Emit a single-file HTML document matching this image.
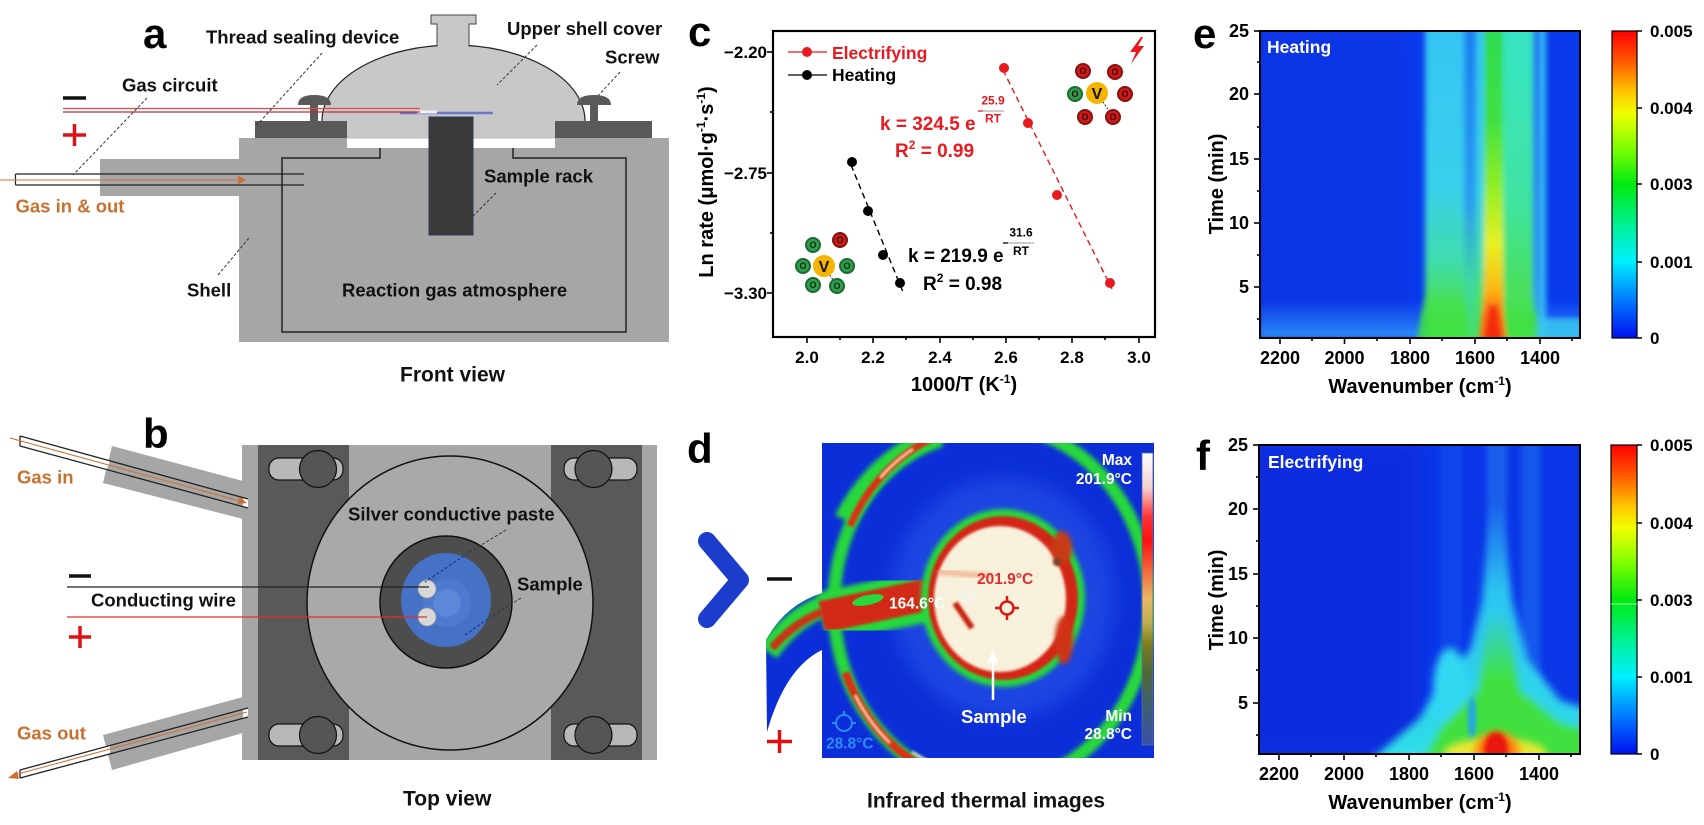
<!DOCTYPE html>
<html><head><meta charset="utf-8">
<style>
html,body{margin:0;padding:0;background:#fff;}
svg{display:block;font-family:"Liberation Sans",Arial,sans-serif;font-weight:bold;}
</style></head>
<body>
<svg width="1704" height="825" viewBox="0 0 1704 825" xmlns="http://www.w3.org/2000/svg">
<defs>
  <filter id="b1" x="-50%" y="-50%" width="200%" height="200%"><feGaussianBlur stdDeviation="1.2"/></filter>
  <filter id="b2" x="-50%" y="-50%" width="200%" height="200%"><feGaussianBlur stdDeviation="2.5"/></filter>
  <filter id="b4" x="-50%" y="-50%" width="200%" height="200%"><feGaussianBlur stdDeviation="4"/></filter>
  <filter id="b8" x="-50%" y="-50%" width="200%" height="200%"><feGaussianBlur stdDeviation="9"/></filter>
  <filter id="bh" x="-100%" y="-20%" width="300%" height="140%"><feGaussianBlur stdDeviation="3 0.5"/></filter>
  <linearGradient id="jet" x1="0" y1="0" x2="0" y2="1">
    <stop offset="0" stop-color="#ff0000"/><stop offset="0.1" stop-color="#ff5a00"/>
    <stop offset="0.2" stop-color="#ffc800"/><stop offset="0.27" stop-color="#f0ff00"/>
    <stop offset="0.38" stop-color="#80ff00"/><stop offset="0.5" stop-color="#00ea10"/>
    <stop offset="0.62" stop-color="#00f08a"/><stop offset="0.75" stop-color="#00f0ff"/>
    <stop offset="0.87" stop-color="#0080ff"/><stop offset="1" stop-color="#0010f0"/>
  </linearGradient>
  <linearGradient id="irb" x1="0" y1="0" x2="0" y2="1">
    <stop offset="0" stop-color="#ffffff"/><stop offset="0.12" stop-color="#f4d0d0"/>
    <stop offset="0.22" stop-color="#ff3030"/><stop offset="0.3" stop-color="#ff1010"/>
    <stop offset="0.42" stop-color="#f07840"/><stop offset="0.5" stop-color="#e8b868"/>
    <stop offset="0.58" stop-color="#c0b050"/><stop offset="0.65" stop-color="#808020"/>
    <stop offset="0.75" stop-color="#506838"/><stop offset="0.87" stop-color="#3c6070"/>
    <stop offset="1" stop-color="#3850a8"/>
  </linearGradient>
  <linearGradient id="gA" x1="0" y1="0" x2="0" y2="1">
    <stop offset="0" stop-color="#36c4f4"/><stop offset="0.5" stop-color="#38d0ec"/>
    <stop offset="0.72" stop-color="#40dcb0"/><stop offset="0.85" stop-color="#48e060"/><stop offset="1" stop-color="#48e050"/>
  </linearGradient>
  <linearGradient id="gG1" x1="0" y1="0" x2="0" y2="1">
    <stop offset="0" stop-color="#1a7cf2"/><stop offset="0.55" stop-color="#2a9cf0"/>
    <stop offset="0.8" stop-color="#40d8a0"/><stop offset="1" stop-color="#48e060"/>
  </linearGradient>
  <linearGradient id="gC" x1="0" y1="0" x2="0" y2="1">
    <stop offset="0" stop-color="#2cdc50"/><stop offset="0.3" stop-color="#40e040"/>
    <stop offset="0.5" stop-color="#90ee20"/><stop offset="0.68" stop-color="#e8f020"/>
    <stop offset="0.84" stop-color="#ffb010"/><stop offset="0.93" stop-color="#ff7010"/><stop offset="1" stop-color="#ff5010"/>
  </linearGradient>
  <linearGradient id="gD" x1="0" y1="0" x2="0" y2="1">
    <stop offset="0" stop-color="#36e4c6"/><stop offset="0.55" stop-color="#40e4a0"/>
    <stop offset="0.8" stop-color="#48e060"/><stop offset="1" stop-color="#48e050"/>
  </linearGradient>
  <linearGradient id="gG2" x1="0" y1="0" x2="0" y2="1">
    <stop offset="0" stop-color="#1b66f2"/><stop offset="0.8" stop-color="#2a90f0"/><stop offset="1" stop-color="#40c0e0"/>
  </linearGradient>
  <linearGradient id="fG" x1="0" y1="0" x2="0" y2="1"><stop offset="0" stop-color="#40e040" stop-opacity="0"/><stop offset="0.45" stop-color="#40e040" stop-opacity="1"/></linearGradient>
  <linearGradient id="fY" x1="0" y1="0" x2="0" y2="1"><stop offset="0" stop-color="#e8f020" stop-opacity="0"/><stop offset="0.4" stop-color="#e8f020" stop-opacity="1"/></linearGradient>
  <linearGradient id="fO" x1="0" y1="0" x2="0" y2="1"><stop offset="0" stop-color="#ff8a10" stop-opacity="0"/><stop offset="0.5" stop-color="#ff6a10" stop-opacity="1"/></linearGradient>
  <linearGradient id="fC" x1="0" y1="0" x2="0" y2="1"><stop offset="0" stop-color="#30d8f2" stop-opacity="0"/><stop offset="0.35" stop-color="#30d8f2" stop-opacity="0.85"/><stop offset="1" stop-color="#30e0e8" stop-opacity="1"/></linearGradient>
  <linearGradient id="fB" x1="0" y1="0" x2="0" y2="1"><stop offset="0" stop-color="#2a88f8" stop-opacity="0"/><stop offset="1" stop-color="#2a90f8" stop-opacity="1"/></linearGradient>
  <clipPath id="ce"><rect x="1260" y="31" width="320" height="307"/></clipPath>
  <clipPath id="cf"><rect x="1259" y="445" width="321" height="309"/></clipPath>
  <clipPath id="cd"><path d="M822,443 H1154 V758 H822 V650 Q785,668 767,732 L766,640 Q785,605 822,593 Z"/></clipPath>
</defs>

<rect x="0" y="0" width="1704" height="825" fill="#fff"/>

<!-- ================= PANEL A ================= -->
<rect x="100" y="159" width="141" height="37" fill="#a6a6a6"/>
<rect x="239" y="138" width="430" height="204" fill="#a6a6a6"/>
<path d="M437,47 V24 H431 V15 H476 V24 H469 V47 Z" fill="#c8c8c8" stroke="#444" stroke-width="1"/>
<path d="M322,121 A131.5,76 0 0 1 585,121 Z" fill="#c8c8c8"/>
<path d="M322,121 A131.5,76 0 0 1 585,121" fill="none" stroke="#222" stroke-width="1.2"/>
<rect x="437.5" y="30" width="31" height="18" fill="#c8c8c8"/>
<rect x="347" y="120" width="208" height="18" fill="#c8c8c8"/>
<rect x="347" y="138" width="208" height="10" fill="#fff"/>
<line x1="347" y1="138" x2="555" y2="138" stroke="#bbb" stroke-width="1"/>
<rect x="255" y="121" width="92" height="17" fill="#595959"/>
<rect x="555" y="121" width="97" height="17" fill="#595959"/>
<path d="M298,105 Q298,95 314,95 Q331,95 331,105 Z" fill="#595959"/>
<rect x="310" y="104" width="8" height="17" fill="#595959"/>
<path d="M577,105 Q577,95 594,95 Q611,95 611,105 Z" fill="#595959"/>
<rect x="590" y="104" width="8" height="17" fill="#595959"/>
<path d="M380,148 V158 H282 V332 H626 V158 H513 V148" fill="none" stroke="#222" stroke-width="1.5"/>
<rect x="429" y="117" width="44" height="118" fill="#3a3a3a" stroke="#2c3a66" stroke-width="1"/>
<line x1="400" y1="113" x2="493" y2="113" stroke="#6a78c8" stroke-width="2.5"/>
<rect x="417" y="110.5" width="20" height="3" fill="#f0f0f0"/>
<line x1="63" y1="108.5" x2="420" y2="108.5" stroke="#e24848" stroke-width="1.2"/>
<line x1="63" y1="112" x2="420" y2="112" stroke="#b83040" stroke-width="1.2"/>
<line x1="63" y1="98" x2="86" y2="98" stroke="#111" stroke-width="3.5"/>
<line x1="63" y1="135" x2="86" y2="135" stroke="#e01010" stroke-width="3.5"/>
<line x1="74.5" y1="124" x2="74.5" y2="146" stroke="#e01010" stroke-width="3.5"/>
<rect x="15.5" y="174" width="84.5" height="11" fill="#fff"/>
<path d="M15.5,174 H304 M15.5,185 H304 M15.5,174 V185" fill="none" stroke="#222" stroke-width="1.2"/>
<line x1="0" y1="180" x2="238" y2="180" stroke="#d07030" stroke-width="1"/>
<polygon points="238,175.5 246,180 238,184.5" fill="#d07030"/>
<g stroke="#333" stroke-width="1" stroke-dasharray="3,2" fill="none">
  <line x1="322" y1="53" x2="257" y2="125"/>
  <line x1="147" y1="98" x2="73" y2="175"/>
  <line x1="537" y1="45" x2="497" y2="85"/>
  <line x1="620" y1="72" x2="597" y2="97"/>
  <line x1="496" y1="193" x2="471" y2="218"/>
  <line x1="218" y1="275" x2="249" y2="238"/>
</g>
<g font-size="18.5" fill="#111">
  <text x="206" y="43.5">Thread sealing device</text>
  <text x="507" y="35">Upper shell cover</text>
  <text x="605" y="63.5">Screw</text>
  <text x="122" y="91.5">Gas circuit</text>
  <text x="15.5" y="212.5" fill="#c8702e">Gas in &amp; out</text>
  <text x="484" y="182.5">Sample rack</text>
  <text x="187" y="296.5">Shell</text>
  <text x="342" y="296.5">Reaction gas atmosphere</text>
</g>
<text x="400" y="381.5" font-size="21" fill="#111">Front view</text>
<text x="143" y="48" font-size="42" fill="#000">a</text>

<!-- ================= PANEL B ================= -->
<polygon points="112,446 243,481 243,519 103,483" fill="#a6a6a6"/>
<polygon points="103,735 243,697 243,733 112,770" fill="#a6a6a6"/>
<rect x="242" y="445" width="415" height="315" fill="#a6a6a6"/>
<rect x="258" y="445" width="91" height="315" fill="#595959"/>
<rect x="551" y="445" width="91" height="315" fill="#595959"/>
<ellipse cx="450" cy="603" rx="143" ry="147" fill="#a9a9a9" stroke="#111" stroke-width="1.5"/>
<g stroke="#111" stroke-width="1.2">
  <rect x="269" y="458" width="74" height="22" rx="10" fill="#b8b8b8"/>
  <circle cx="318" cy="469" r="18.5" fill="#555"/>
  <rect x="564" y="458" width="73" height="22" rx="10" fill="#b8b8b8"/>
  <circle cx="593.5" cy="469" r="18.5" fill="#555"/>
  <rect x="269" y="724" width="74" height="22" rx="10" fill="#b8b8b8"/>
  <circle cx="318" cy="735" r="18.5" fill="#555"/>
  <rect x="564" y="724" width="73" height="22" rx="10" fill="#b8b8b8"/>
  <circle cx="593.5" cy="735" r="18.5" fill="#555"/>
</g>
<circle cx="446" cy="602" r="66" fill="#4d4d4d" stroke="#111" stroke-width="1.5"/>
<ellipse cx="446" cy="600" rx="45" ry="47" fill="#4672c6"/>
<circle cx="447" cy="603" r="24" fill="#4d7ad0"/>
<circle cx="447" cy="603" r="14" fill="#5c88d8"/>
<circle cx="427" cy="589" r="9" fill="#d8d8d8" stroke="#999" stroke-width="0.8"/>
<circle cx="427" cy="617" r="9" fill="#d8d8d8" stroke="#999" stroke-width="0.8"/>
<line x1="67" y1="587" x2="429" y2="587" stroke="#222" stroke-width="1.2"/>
<line x1="67" y1="617" x2="427" y2="617" stroke="#e03030" stroke-width="1.2"/>
<line x1="69" y1="576" x2="91" y2="576" stroke="#111" stroke-width="3.5"/>
<line x1="69" y1="637" x2="91" y2="637" stroke="#e01010" stroke-width="3.5"/>
<line x1="80" y1="626" x2="80" y2="648" stroke="#e01010" stroke-width="3.5"/>
<polygon points="20,436 248,499 248,508 20,446" fill="#fff"/>
<polygon points="110,460.5 243,497 243,506 107,469.5" fill="#a6a6a6"/>
<path d="M20,436 L248,499 M20,446 L248,508 M20,436 L20,446" stroke="#222" stroke-width="1.3" fill="none"/>
<line x1="10" y1="438" x2="240" y2="501" stroke="#d07030" stroke-width="1"/>
<polygon points="247,503 237,504 240,497" fill="#d07030"/>
<polygon points="20,770 248,708 248,717 20,778" fill="#fff"/>
<polygon points="243,709 243,718 110,754 110,745" fill="#a6a6a6"/>
<path d="M20,770 L248,708 M20,778 L248,717 M20,770 L20,778" stroke="#222" stroke-width="1.3" fill="none"/>
<line x1="247" y1="712" x2="14" y2="775" stroke="#d07030" stroke-width="1"/>
<polygon points="8,778 17,771 19,779" fill="#d07030"/>
<g stroke="#333" stroke-width="1" stroke-dasharray="3,2" fill="none">
  <line x1="506" y1="530" x2="468" y2="553"/>
  <line x1="521" y1="598" x2="492" y2="616"/>
</g>
<g stroke="#1a3a90" stroke-width="1.2" stroke-dasharray="3,2" fill="none">
  <line x1="468" y1="553" x2="425" y2="582"/>
  <line x1="492" y1="616" x2="465" y2="635"/>
</g>
<g font-size="18.5" fill="#111">
  <text x="17" y="483.5" fill="#c8702e">Gas in</text>
  <text x="17" y="739.5" fill="#c8702e">Gas out</text>
  <text x="91" y="606.5">Conducting wire</text>
  <text x="348" y="520.5">Silver conductive paste</text>
  <text x="517" y="590.5">Sample</text>
</g>
<text x="403" y="805.5" font-size="21" fill="#111">Top view</text>
<text x="143" y="448" font-size="42" fill="#000">b</text>

<!-- ================= PANEL C ================= -->
<text x="688" y="46" font-size="42" fill="#000">c</text>
<rect x="773" y="31" width="382" height="306" fill="none" stroke="#000" stroke-width="2.2"/>
<g stroke="#000" stroke-width="1.6">
  <line x1="767" y1="52" x2="773" y2="52"/><line x1="767" y1="173" x2="773" y2="173"/><line x1="767" y1="293" x2="773" y2="293"/>
  <line x1="770" y1="112" x2="773" y2="112"/><line x1="770" y1="233" x2="773" y2="233"/>
  <line x1="807" y1="337" x2="807" y2="343"/><line x1="873" y1="337" x2="873" y2="343"/><line x1="940" y1="337" x2="940" y2="343"/>
  <line x1="1006" y1="337" x2="1006" y2="343"/><line x1="1072" y1="337" x2="1072" y2="343"/><line x1="1139" y1="337" x2="1139" y2="343"/>
  <line x1="840" y1="337" x2="840" y2="340"/><line x1="906" y1="337" x2="906" y2="340"/><line x1="973" y1="337" x2="973" y2="340"/>
  <line x1="1039" y1="337" x2="1039" y2="340"/><line x1="1105" y1="337" x2="1105" y2="340"/>
</g>
<g font-size="17" fill="#000">
  <text x="767" y="58" text-anchor="end">−2.20</text>
  <text x="767" y="179" text-anchor="end">−2.75</text>
  <text x="767" y="299" text-anchor="end">−3.30</text>
  <g text-anchor="middle">
    <text x="807" y="363">2.0</text><text x="873" y="363">2.2</text><text x="940" y="363">2.4</text>
    <text x="1006" y="363">2.6</text><text x="1072" y="363">2.8</text><text x="1139" y="363">3.0</text>
  </g>
</g>
<text x="964" y="391" font-size="20" text-anchor="middle">1000/T (K<tspan font-size="12" dy="-8">-1</tspan><tspan dy="8">)</tspan></text>
<text transform="translate(713,182) rotate(-90)" font-size="20" text-anchor="middle">Ln rate (μmol·g<tspan font-size="12" dy="-8">-1</tspan><tspan dy="8">·s</tspan><tspan font-size="12" dy="-8">-1</tspan><tspan dy="8">)</tspan></text>
<line x1="788" y1="52" x2="827" y2="52" stroke="#e8191f" stroke-width="1.3"/>
<circle cx="807" cy="52" r="5" fill="#e8191f"/>
<line x1="788" y1="75" x2="827" y2="75" stroke="#000" stroke-width="1.3"/>
<circle cx="807" cy="75" r="5" fill="#000"/>
<text x="832" y="59" font-size="17.5" fill="#e8191f">Electrifying</text>
<text x="832" y="81" font-size="17.5" fill="#000">Heating</text>
<line x1="1003" y1="70" x2="1112" y2="289" stroke="#e8191f" stroke-width="1.4" stroke-dasharray="6,4"/>
<line x1="851" y1="165" x2="903" y2="292" stroke="#000" stroke-width="1.4" stroke-dasharray="6,4"/>
<g fill="#e8191f"><circle cx="1004" cy="68" r="5"/><circle cx="1028" cy="123" r="5"/><circle cx="1057" cy="195" r="5"/><circle cx="1110" cy="283" r="5"/></g>
<g fill="#000"><circle cx="852" cy="162" r="5"/><circle cx="868" cy="211" r="5"/><circle cx="883" cy="255" r="5"/><circle cx="900" cy="283" r="5"/></g>
<g fill="#e8191f">
  <text x="880" y="130" font-size="19">k = 324.5 e</text>
  <line x1="978" y1="111" x2="983" y2="111" stroke="#e8191f" stroke-width="1.3"/>
  <text x="993" y="104.5" font-size="12" text-anchor="middle">25.9</text>
  <line x1="983" y1="111" x2="1004" y2="111" stroke="#999" stroke-width="1"/>
  <text x="993" y="122.5" font-size="12" text-anchor="middle">RT</text>
  <text x="895" y="157" font-size="19">R<tspan font-size="12" dy="-8">2</tspan><tspan dy="8"> = 0.99</tspan></text>
</g>
<g fill="#000">
  <text x="908" y="262" font-size="19">k = 219.9 e</text>
  <line x1="1003" y1="243" x2="1008" y2="243" stroke="#000" stroke-width="1.3"/>
  <text x="1021" y="236.5" font-size="12" text-anchor="middle">31.6</text>
  <line x1="1008" y1="243" x2="1034" y2="243" stroke="#999" stroke-width="1"/>
  <text x="1021" y="255" font-size="12" text-anchor="middle">RT</text>
  <text x="923" y="290" font-size="19">R<tspan font-size="12" dy="-8">2</tspan><tspan dy="8"> = 0.98</tspan></text>
</g>
<line x1="824" y1="266" x2="837" y2="286" stroke="#222" stroke-width="1" stroke-dasharray="2,1.5"/>
<g stroke-width="2">
  <circle cx="813" cy="245" r="7" fill="#2f9e4c" stroke="#1c6a32"/>
  <circle cx="840" cy="240" r="7" fill="#d01818" stroke="#8a1010"/>
  <circle cx="803" cy="266" r="7" fill="#2f9e4c" stroke="#1c6a32"/>
  <circle cx="847" cy="266" r="7" fill="#2f9e4c" stroke="#1c6a32"/>
  <circle cx="813" cy="285" r="7" fill="#2f9e4c" stroke="#1c6a32"/>
  <circle cx="837" cy="286" r="7" fill="#2f9e4c" stroke="#1c6a32"/>
</g>
<circle cx="824" cy="266" r="11" fill="#f4b400"/>
<g font-size="9" fill="#102a10" text-anchor="middle">
  <text x="813" y="248">O</text><text x="840" y="243">O</text><text x="803" y="269">O</text>
  <text x="847" y="269">O</text><text x="813" y="288">O</text><text x="837" y="289">O</text>
</g>
<text x="824" y="272" font-size="16" text-anchor="middle" fill="#111">V</text>
<line x1="1097" y1="93" x2="1113" y2="117" stroke="#222" stroke-width="1" stroke-dasharray="2,1.5"/>
<g stroke-width="2">
  <circle cx="1083" cy="71" r="7" fill="#d01818" stroke="#8a1010"/>
  <circle cx="1115" cy="72" r="7" fill="#d01818" stroke="#8a1010"/>
  <circle cx="1075" cy="94" r="7" fill="#2f9e4c" stroke="#1c6a32"/>
  <circle cx="1125" cy="94" r="7" fill="#d01818" stroke="#8a1010"/>
  <circle cx="1085" cy="117" r="7" fill="#d01818" stroke="#8a1010"/>
  <circle cx="1113" cy="117" r="7" fill="#d01818" stroke="#8a1010"/>
</g>
<circle cx="1097" cy="93" r="11" fill="#f4b400"/>
<g font-size="9" fill="#2a0808" text-anchor="middle">
  <text x="1083" y="74">O</text><text x="1115" y="75">O</text><text x="1075" y="97">O</text>
  <text x="1125" y="97">O</text><text x="1085" y="120">O</text><text x="1113" y="120">O</text>
</g>
<text x="1097" y="99" font-size="16" text-anchor="middle" fill="#111">V</text>
<polygon points="1141,37 1130,52 1136,52 1131,64 1144,46 1138,46 1143,37" fill="#e8191f"/>

<!-- ================= PANEL D ================= -->
<text x="687" y="463" font-size="42" fill="#000">d</text>
<path d="M707,541 L740,580 L707,619" fill="none" stroke="#1c3ccc" stroke-width="18" stroke-linecap="round" stroke-linejoin="round"/>
<line x1="767" y1="579" x2="792" y2="579" stroke="#111" stroke-width="3.5"/>
<line x1="767" y1="741.5" x2="792" y2="741.5" stroke="#e01010" stroke-width="3.5"/>
<line x1="779.5" y1="730" x2="779.5" y2="753" stroke="#e01010" stroke-width="3.5"/>
<g clip-path="url(#cd)">
  <rect x="760" y="440" width="400" height="320" fill="#0c2ed8"/>
  <ellipse cx="1003" cy="598" rx="112" ry="120" fill="#1a44e2" filter="url(#b8)"/>
  <ellipse cx="992" cy="605" rx="158" ry="180" fill="none" stroke="#28d83a" stroke-width="13" filter="url(#b2)"/>
  <path d="M845,520 A158,180 0 0 1 940,436" fill="none" stroke="#28d83a" stroke-width="22" filter="url(#b2)"/>
  <path d="M850,526 A158,180 0 0 1 938,436" fill="none" stroke="#d83018" stroke-width="7" filter="url(#b1)"/>
  <path d="M880,478 A158,180 0 0 1 913,449" fill="none" stroke="#fff0c8" stroke-width="2.5" filter="url(#b1)"/>
  <path d="M845.5,672.5 A158,180 0 0 0 938,774" fill="none" stroke="#d83018" stroke-width="8" filter="url(#b1)"/>
  <path d="M855,695 A158,180 0 0 0 890,743" fill="none" stroke="#fff0c8" stroke-width="2.5" filter="url(#b1)"/>
  <path d="M912,752 A158,180 0 0 0 930,762" fill="none" stroke="#fff0c8" stroke-width="2.5" filter="url(#b1)"/>
  <path d="M940,593 L822,618" fill="none" stroke="#28d83a" stroke-width="52" filter="url(#b2)"/>
  <path d="M824,606 Q792,618 768,652" fill="none" stroke="#28d83a" stroke-width="22" filter="url(#b2)"/>
  <path d="M940,592 L822,617" fill="none" stroke="#d22a14" stroke-width="32" filter="url(#b1)"/>
  <path d="M822,612 Q795,622 772,648" fill="none" stroke="#c83418" stroke-width="8" filter="url(#b1)"/>
  <ellipse cx="868" cy="600" rx="16" ry="5" transform="rotate(-12 868 600)" fill="#28d83a"/>
  <ellipse cx="1003" cy="598" rx="82" ry="89" fill="#28d83a" filter="url(#b2)"/>
  <ellipse cx="1003" cy="598" rx="75" ry="82" fill="#d42814" filter="url(#b1)"/>
  <ellipse cx="1000" cy="599" rx="66" ry="73" fill="#f7f0da" filter="url(#b1)"/>
  <ellipse cx="1062" cy="548" rx="10" ry="17" fill="#c83a18" filter="url(#b2)"/>
  <ellipse cx="1064" cy="640" rx="9" ry="24" fill="#d03018" filter="url(#b2)"/>
  <circle cx="1057" cy="562" r="4" fill="#7a4020" filter="url(#b1)"/>
  <line x1="955" y1="603" x2="972" y2="628" stroke="#c82010" stroke-width="6" filter="url(#b1)"/>
  <line x1="938" y1="572" x2="990" y2="576" stroke="#f0a080" stroke-width="4" filter="url(#b2)"/>
  <g stroke="#f4f4f4" stroke-width="2" fill="none" opacity="0.85">
    <circle cx="968" cy="595" r="7"/><circle cx="968" cy="595" r="2"/>
    <path d="M968,584 V588 M968,602 V606 M957,595 H961 M975,595 H979"/>
  </g>
  <g stroke="#d81818" stroke-width="2.5" fill="none">
    <circle cx="1007" cy="608" r="6.5"/>
    <path d="M1007,596 V601 M1007,615 V620 M995,608 H1000 M1014,608 H1019"/>
  </g>
  <g stroke="#2a8cf0" stroke-width="2" fill="none">
    <circle cx="844" cy="723" r="8"/>
    <path d="M844,711 V715 M832,723 H836 M852,723 H856"/>
  </g>
  <line x1="993" y1="700" x2="993" y2="660" stroke="#fff" stroke-width="2.5"/>
  <polygon points="993,650 987.5,663 998.5,663" fill="#fff"/>
  <rect x="1142" y="453" width="11" height="292" fill="url(#irb)" stroke="#5a6aa0" stroke-width="0.8"/>
  <g font-size="15.5" fill="#fff">
    <text x="977" y="584" fill="#e22c2c">201.9°C</text>
    <text x="889" y="608.5">164.6°C</text>
    <text x="961" y="723" font-size="18.5">Sample</text>
    <text x="1132" y="465" text-anchor="end">Max</text>
    <text x="1132" y="484" text-anchor="end">201.9°C</text>
    <text x="1132" y="721" text-anchor="end">Min</text>
    <text x="1132" y="739" text-anchor="end">28.8°C</text>
    <text x="826" y="748.5" fill="#2d8cf0">28.8°C</text>
  </g>
</g>
<text x="867" y="807.5" font-size="21" fill="#111">Infrared thermal images</text>

<!-- ================= PANEL E ================= -->
<text x="1193" y="48" font-size="42" fill="#000">e</text>
<g clip-path="url(#ce)">
  <rect x="1260" y="31" width="320" height="307" fill="#0a3aee"/>
  <rect x="1240" y="31" width="170" height="307" fill="#0830e0" opacity="0.6" filter="url(#b8)"/>
  <rect x="1260" y="300" width="320" height="38" fill="url(#fB)" filter="url(#b2)"/>
  <g filter="url(#bh)">
    <rect x="1425" y="20" width="39" height="330" fill="url(#gA)"/>
    <rect x="1464" y="20" width="12" height="330" fill="url(#gG1)"/>
    <rect x="1476" y="20" width="8" height="330" fill="url(#gA)"/>
    <rect x="1484" y="20" width="19" height="330" fill="url(#gC)"/>
    <rect x="1503" y="20" width="30" height="330" fill="url(#gD)"/>
    <rect x="1533" y="20" width="7" height="330" fill="url(#gG2)"/>
    <rect x="1540" y="20" width="6" height="330" fill="#36bff2"/>
  </g>
  <g filter="url(#b2)">
    <path d="M1425,290 L1464,290 L1470,345 L1416,345 Z" fill="url(#fG)" opacity="0.8"/>
    <path d="M1503,295 L1533,295 L1542,345 L1503,345 Z" fill="url(#fG)" opacity="0.8"/>
    <path d="M1540,318 L1590,318 L1590,345 L1535,345 Z" fill="#38c8f0" opacity="0.8"/>
    <path d="M1486,285 L1500,285 L1508,345 L1478,345 Z" fill="url(#fO)" opacity="0.8"/>
    <path d="M1489,305 L1497,305 L1503,345 L1483,345 Z" fill="#f02010" opacity="0.8"/>
  </g>
</g>
<rect x="1260" y="31" width="320" height="307" fill="none" stroke="#000" stroke-width="2"/>
<g stroke="#000" stroke-width="1.6">
  <line x1="1254" y1="31" x2="1260" y2="31"/><line x1="1254" y1="94" x2="1260" y2="94"/><line x1="1254" y1="159" x2="1260" y2="159"/>
  <line x1="1254" y1="223" x2="1260" y2="223"/><line x1="1254" y1="287" x2="1260" y2="287"/>
  <line x1="1257" y1="62" x2="1260" y2="62"/><line x1="1257" y1="127" x2="1260" y2="127"/><line x1="1257" y1="191" x2="1260" y2="191"/>
  <line x1="1257" y1="255" x2="1260" y2="255"/><line x1="1257" y1="319" x2="1260" y2="319"/>
  <line x1="1280" y1="338" x2="1280" y2="344"/><line x1="1344.5" y1="338" x2="1344.5" y2="344"/><line x1="1410" y1="338" x2="1410" y2="344"/>
  <line x1="1475" y1="338" x2="1475" y2="344"/><line x1="1540" y1="338" x2="1540" y2="344"/>
  <line x1="1312" y1="338" x2="1312" y2="341"/><line x1="1377" y1="338" x2="1377" y2="341"/><line x1="1442" y1="338" x2="1442" y2="341"/>
  <line x1="1507" y1="338" x2="1507" y2="341"/><line x1="1572" y1="338" x2="1572" y2="341"/>
</g>
<g font-size="18" fill="#000">
  <g text-anchor="end">
    <text x="1249" y="37">25</text><text x="1249" y="100">20</text><text x="1249" y="165">15</text>
    <text x="1249" y="229">10</text><text x="1249" y="293">5</text>
  </g>
  <g text-anchor="middle">
    <text x="1280" y="364">2200</text><text x="1344.5" y="364">2000</text><text x="1410" y="364">1800</text>
    <text x="1475" y="364">1600</text><text x="1540" y="364">1400</text>
  </g>
</g>
<text x="1267" y="53" font-size="17.5" fill="#fff">Heating</text>
<text x="1420" y="393" font-size="20" text-anchor="middle">Wavenumber (cm<tspan font-size="12" dy="-8">-1</tspan><tspan dy="8">)</tspan></text>
<text transform="translate(1223,184) rotate(-90)" font-size="20" text-anchor="middle">Time (min)</text>
<rect x="1612" y="31" width="25" height="307" fill="url(#jet)" stroke="#000" stroke-width="1.2"/>
<g stroke="#000" stroke-width="1.5">
  <line x1="1637" y1="31" x2="1642" y2="31"/><line x1="1637" y1="108" x2="1642" y2="108"/><line x1="1637" y1="184" x2="1642" y2="184"/>
  <line x1="1637" y1="262" x2="1642" y2="262"/><line x1="1637" y1="338" x2="1642" y2="338"/>
</g>
<g font-size="17" fill="#000">
  <text x="1650" y="37">0.005</text><text x="1650" y="114">0.004</text><text x="1650" y="190">0.003</text>
  <text x="1650" y="268">0.001</text><text x="1650" y="344">0</text>
</g>

<!-- ================= PANEL F ================= -->
<text x="1196" y="470" font-size="42" fill="#000">f</text>
<g clip-path="url(#cf)">
  <rect x="1259" y="445" width="321" height="309" fill="#0b36e8"/>
  <rect x="1240" y="445" width="180" height="309" fill="#0826d6" opacity="0.6" filter="url(#b8)"/>
  <g filter="url(#bh)" opacity="0.9">
    <rect x="1487" y="440" width="20" height="320" fill="#1a62ee"/>
    <rect x="1521" y="440" width="20" height="320" fill="#165cee"/>
    <rect x="1440" y="440" width="22" height="320" fill="#1250ec" opacity="0.7"/>
  </g>
  <g filter="url(#b4)">
    <path d="M1490,500 L1502,500 L1512,600 L1528,660 L1560,700 L1595,712 L1595,765 L1365,765 L1420,718 L1440,680 L1470,650 L1482,600 Z" fill="url(#fC)"/>
    <ellipse cx="1450" cy="690" rx="17" ry="42" fill="#30d8f2"/>
    <path d="M1488,610 L1506,610 L1520,690 L1560,722 L1595,732 L1595,765 L1420,765 L1440,728 L1478,690 Z" fill="url(#fG)"/>
  </g>
  <ellipse cx="1472" cy="718" rx="4" ry="22" fill="#20a0f0" filter="url(#b2)"/>
  <ellipse cx="1495" cy="754" rx="52" ry="16" fill="#e8e830" filter="url(#b4)"/>
  <ellipse cx="1497" cy="752" rx="22" ry="20" fill="#ff8010" filter="url(#b4)"/>
  <ellipse cx="1496" cy="750" rx="12" ry="18" fill="#e81808" filter="url(#b2)"/>
</g>
<rect x="1259" y="445" width="321" height="309" fill="none" stroke="#000" stroke-width="2"/>
<g stroke="#000" stroke-width="1.6">
  <line x1="1253" y1="445" x2="1259" y2="445"/><line x1="1253" y1="509" x2="1259" y2="509"/><line x1="1253" y1="574" x2="1259" y2="574"/>
  <line x1="1253" y1="638" x2="1259" y2="638"/><line x1="1253" y1="703" x2="1259" y2="703"/>
  <line x1="1256" y1="477" x2="1259" y2="477"/><line x1="1256" y1="541" x2="1259" y2="541"/><line x1="1256" y1="606" x2="1259" y2="606"/>
  <line x1="1256" y1="670" x2="1259" y2="670"/><line x1="1256" y1="735" x2="1259" y2="735"/>
  <line x1="1279" y1="754" x2="1279" y2="760"/><line x1="1344" y1="754" x2="1344" y2="760"/><line x1="1409" y1="754" x2="1409" y2="760"/>
  <line x1="1474" y1="754" x2="1474" y2="760"/><line x1="1539" y1="754" x2="1539" y2="760"/>
  <line x1="1311" y1="754" x2="1311" y2="757"/><line x1="1376" y1="754" x2="1376" y2="757"/><line x1="1441" y1="754" x2="1441" y2="757"/>
  <line x1="1506" y1="754" x2="1506" y2="757"/><line x1="1571" y1="754" x2="1571" y2="757"/>
</g>
<g font-size="18" fill="#000">
  <g text-anchor="end">
    <text x="1248" y="451">25</text><text x="1248" y="515">20</text><text x="1248" y="580">15</text>
    <text x="1248" y="644">10</text><text x="1248" y="709">5</text>
  </g>
  <g text-anchor="middle">
    <text x="1279" y="780">2200</text><text x="1344" y="780">2000</text><text x="1409" y="780">1800</text>
    <text x="1474" y="780">1600</text><text x="1539" y="780">1400</text>
  </g>
</g>
<text x="1268" y="468" font-size="17.5" fill="#fff">Electrifying</text>
<text x="1420" y="809" font-size="20" text-anchor="middle">Wavenumber (cm<tspan font-size="12" dy="-8">-1</tspan><tspan dy="8">)</tspan></text>
<text transform="translate(1223,600) rotate(-90)" font-size="20" text-anchor="middle">Time (min)</text>
<rect x="1611" y="445" width="26" height="309" fill="url(#jet)" stroke="#000" stroke-width="1.2"/>
<line x1="1611" y1="604" x2="1637" y2="604" stroke="#c8f8c8" stroke-width="0.8"/>
<g stroke="#000" stroke-width="1.5">
  <line x1="1637" y1="445" x2="1642" y2="445"/><line x1="1637" y1="523" x2="1642" y2="523"/><line x1="1637" y1="600" x2="1642" y2="600"/>
  <line x1="1637" y1="677" x2="1642" y2="677"/><line x1="1637" y1="754" x2="1642" y2="754"/>
</g>
<g font-size="17" fill="#000">
  <text x="1650" y="451">0.005</text><text x="1650" y="529">0.004</text><text x="1650" y="606">0.003</text>
  <text x="1650" y="683">0.001</text><text x="1650" y="760">0</text>
</g>
</svg>
</body></html>
